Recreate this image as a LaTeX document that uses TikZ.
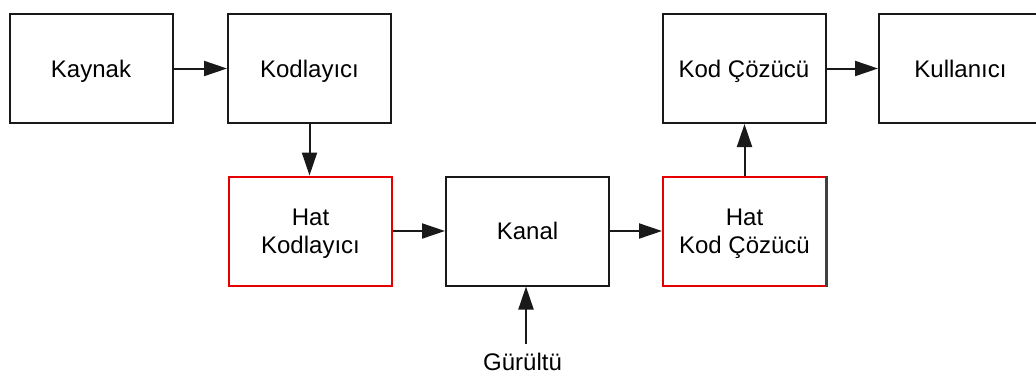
\documentclass[tikz,border=0pt]{standalone}
\usepackage{fontspec}
\setmainfont{Liberation Sans}
\usetikzlibrary{arrows.meta}
\begin{document}
\begin{tikzpicture}[x=1pt,y=-1pt,
  blockbox/.style={draw=black!90, line width=2pt, minimum width=163pt,
    minimum height=109pt, inner sep=0pt, align=center, text depth=0pt,
    font=\fontsize{24}{28}\selectfont},
  redbox/.style={blockbox, draw=red!90!black},
  flow/.style={line width=2pt, black!90, -{Triangle[length=23pt,width=15pt]}},
  lbl/.style={font=\fontsize{24}{28}\selectfont, inner sep=0pt}]
  \fill[white] (0,0) rectangle (1036,378);
  \useasboundingbox (0,0) rectangle (1036,378);
  \clip (0,0) rectangle (1036,378);

  % upper row
  \node[blockbox] (src) at (91,68.5) {Kaynak};
  \node[blockbox] (enc) at (309.5,68.5) {Kodlayıcı};
  \node[blockbox] (dec) at (744,68.5) {Kod Çözücü};
  \node[blockbox] (usr) at (960.5,68.5) {Kullanıcı};

  % lower row
  \node[redbox] (lenc) at (310.5,231) {Hat\\Kodlayıcı};
  \node[blockbox] (ch) at (527.5,231) {Kanal};
  \node[redbox] (ldec) at (744.5,231) {Hat\\Kod Çözücü};
  \draw[line width=2pt, black!75] (ldec.north east) -- (ldec.south east);

  % noise source
  \node[lbl] (noise) at (522.5,362) {Gürültü};
  \coordinate (nz) at (526,344);

  % connectors
  \draw[flow] (src.east) -- (enc.west);
  \draw[flow] (enc.south) -- (enc.south |- lenc.north);
  \draw[flow] (lenc.east) -- (ch.west);
  \draw[flow] (ch.east) -- (ldec.west);
  \draw[flow] (ldec.north) -- (ldec.north |- dec.south);
  \draw[flow] (dec.east) -- (usr.west);
  \draw[flow] (nz) -- (nz |- ch.south);
\end{tikzpicture}
\end{document}
